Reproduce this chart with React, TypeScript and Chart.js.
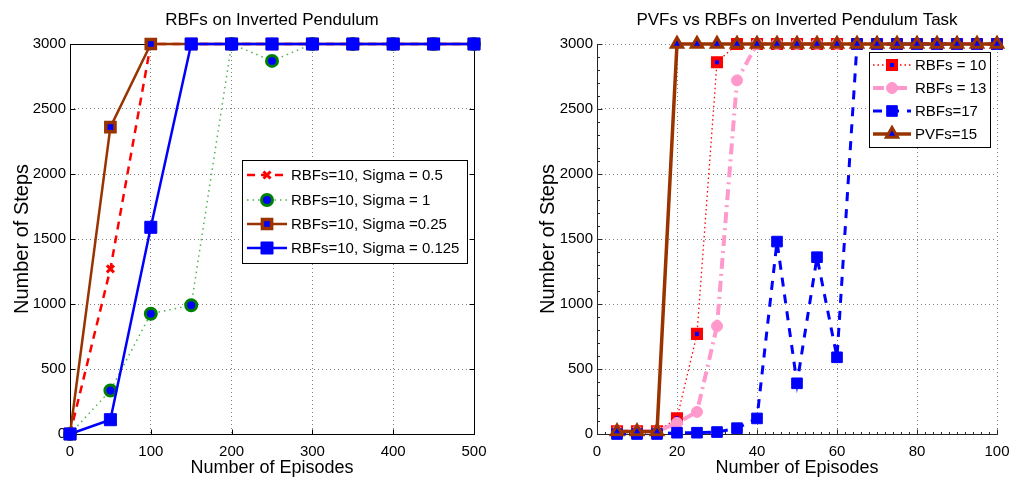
import React, { useEffect, useRef } from 'react';
import { Chart, registerables } from 'chart.js';

Chart.register(...registerables);

// ---------- Data: left panel ----------
const leftTitle = 'RBFs on Inverted Pendulum';
const leftEpisodes = [0, 50, 100, 150, 200, 250, 300, 350, 400, 450, 500];
const leftSigma05 = [0, 1270, 3000, 3000, 3000, 3000, 3000, 3000, 3000, 3000, 3000];
const leftSigma1 = [0, 335, 925, 990, 3000, 2870, 3000, 3000, 3000, 3000, 3000];
const leftSigma025 = [0, 2360, 3000, 3000, 3000, 3000, 3000, 3000, 3000, 3000, 3000];
const leftSigma0125 = [0, 110, 1590, 3000, 3000, 3000, 3000, 3000, 3000, 3000, 3000];
const leftLabels = [
  'RBFs=10, Sigma = 0.5',
  'RBFs=10, Sigma = 1',
  'RBFs=10, Sigma =0.25',
  'RBFs=10, Sigma = 0.125',
];
const leftXTicks = [0, 100, 200, 300, 400, 500];

// ---------- Data: right panel ----------
const rightTitle = 'PVFs vs RBFs on Inverted Pendulum Task';
const rightEpisodes = [5, 10, 15, 20, 25, 30, 35, 40, 45, 50, 55, 60, 65, 70, 75, 80, 85, 90, 95, 100];
const rightRbf10 = [20, 20, 20, 120, 770, 2860, 3000, 3000, 3000, 3000, 3000, 3000, 3000, 3000, 3000, 3000, 3000, 3000, 3000, 3000];
const rightRbf13 = [20, 20, 20, 85, 170, 830, 2720, 3000, 3000, 3000, 3000, 3000, 3000, 3000, 3000, 3000, 3000, 3000, 3000, 3000];
const rightRbf17 = [0, 0, 0, 10, 10, 15, 45, 120, 1480, 390, 1360, 590, 3000, 3000, 3000, 3000, 3000, 3000, 3000, 3000];
const rightPvf15 = [20, 20, 20, 3000, 3000, 3000, 3000, 3000, 3000, 3000, 3000, 3000, 3000, 3000, 3000, 3000, 3000, 3000, 3000, 3000];
const rightLabels = ['RBFs = 10', 'RBFs = 13', 'RBFs=17', 'PVFs=15'];
const rightXTicks = [0, 20, 40, 60, 80, 100];

const yTicks = [0, 500, 1000, 1500, 2000, 2500, 3000];
const xTitle = 'Number of Episodes';
const yTitle = 'Number of Steps';

const FONT = '"Liberation Sans", Arial, Helvetica, sans-serif';

const toPoints = (xs: number[], ys: number[]) => xs.map((x, i) => ({ x, y: ys[i] }));

function drawMarker(
  ctx: CanvasRenderingContext2D,
  style: string,
  r: number,
  bw: number,
  x: number,
  y: number,
  fill: string,
  stroke: string
) {
  ctx.save();
  ctx.setLineDash([]);
  ctx.lineWidth = bw;
  ctx.strokeStyle = stroke;
  ctx.fillStyle = fill;
  ctx.beginPath();
  if (style === 'circle') {
    ctx.arc(x, y, r, 0, Math.PI * 2);
  } else if (style === 'rect') {
    const s = Math.SQRT1_2 * r;
    ctx.rect(x - s, y - s, 2 * s, 2 * s);
  } else if (style === 'triangle') {
    let a = 0;
    ctx.moveTo(x + Math.sin(a) * r, y - Math.cos(a) * r);
    a += (2 * Math.PI) / 3;
    ctx.lineTo(x + Math.sin(a) * r, y - Math.cos(a) * r);
    a += (2 * Math.PI) / 3;
    ctx.lineTo(x + Math.sin(a) * r, y - Math.cos(a) * r);
    ctx.closePath();
  } else if (style === 'crossRot') {
    const s = Math.cos(Math.PI / 4) * r;
    ctx.moveTo(x - s, y - s);
    ctx.lineTo(x + s, y + s);
    ctx.moveTo(x + s, y - s);
    ctx.lineTo(x - s, y + s);
  }
  if (style !== 'crossRot') ctx.fill();
  if (bw > 0) ctx.stroke();
  ctx.restore();
}

type LegendCfg = {
  box: [number, number, number, number];
  rows: number[];
  line: [number, number];
  textX: number;
};

function makeLegendPlugin(cfg: LegendCfg) {
  return {
    id: 'customLegend',
    afterDraw(chart: any) {
      const ctx: CanvasRenderingContext2D = chart.ctx;
      const [x0, y0, x1, y1] = cfg.box;
      ctx.save();
      ctx.fillStyle = '#ffffff';
      ctx.fillRect(x0, y0, x1 - x0, y1 - y0);
      ctx.strokeStyle = '#000000';
      ctx.lineWidth = 1;
      ctx.strokeRect(x0 + 0.5, y0 + 0.5, x1 - x0, y1 - y0);
      const sorted = [...chart.data.datasets].sort((a: any, b: any) => a.legendIndex - b.legendIndex);
      sorted.forEach((ds: any, i: number) => {
        const y = cfg.rows[i];
        ctx.save();
        ctx.strokeStyle = ds.borderColor;
        ctx.lineWidth = ds.borderWidth;
        ctx.setLineDash(ds.borderDash || []);
        ctx.beginPath();
        ctx.moveTo(cfg.line[0], y);
        ctx.lineTo(cfg.line[1], y);
        ctx.stroke();
        ctx.restore();
        drawMarker(
          ctx,
          ds.pointStyle,
          ds.pointRadius,
          ds.pointBorderWidth,
          (cfg.line[0] + cfg.line[1]) / 2,
          y,
          ds.pointBackgroundColor,
          ds.pointBorderColor
        );
        ctx.fillStyle = '#000000';
        ctx.font = `15px ${FONT}`;
        ctx.textAlign = 'left';
        ctx.textBaseline = 'middle';
        ctx.fillText(ds.label, cfg.textX, y + 1);
      });
      ctx.restore();
    },
  };
}

function makeTitlePlugin(text: string) {
  return {
    id: 'customTitle',
    afterDraw(chart: any) {
      const ctx: CanvasRenderingContext2D = chart.ctx;
      const a = chart.chartArea;
      ctx.save();
      ctx.fillStyle = '#000000';
      ctx.font = `17px ${FONT}`;
      ctx.textAlign = 'center';
      ctx.textBaseline = 'middle';
      ctx.fillText(text, (a.left + a.right) / 2, 20);
      ctx.restore();
    },
  };
}

function makeFramePlugin(kind: 'box' | 'axes', xTicks: number[], minorX: number, minorY: number) {
  return {
    id: 'customFrame',
    beforeDatasetsDraw(chart: any) {
      const ctx: CanvasRenderingContext2D = chart.ctx;
      const a = chart.chartArea;
      const xs = chart.scales.x;
      const ys = chart.scales.y;
      const L = Math.round(a.left) + 0.5;
      const R = Math.round(a.right) + 0.5;
      const T = Math.round(a.top) + 0.5;
      const B = Math.round(a.bottom) + 0.5;
      ctx.save();
      ctx.setLineDash([]);
      ctx.lineWidth = 1;
      ctx.strokeStyle = kind === 'box' ? '#000000' : '#262626';
      ctx.beginPath();
      if (kind === 'box') {
        ctx.rect(L, T, R - L, B - T);
      } else {
        ctx.moveTo(L, T);
        ctx.lineTo(L, B);
        ctx.lineTo(R, B);
      }
      ctx.stroke();
      const tl = 5;
      ctx.beginPath();
      xTicks.forEach((v) => {
        const px = Math.round(xs.getPixelForValue(v)) + 0.5;
        ctx.moveTo(px, B);
        ctx.lineTo(px, B - tl);
        if (kind === 'box') {
          ctx.moveTo(px, T);
          ctx.lineTo(px, T + tl);
        }
      });
      yTicks.forEach((v) => {
        const py = Math.round(ys.getPixelForValue(v)) + 0.5;
        ctx.moveTo(L, py);
        ctx.lineTo(L + tl, py);
        if (kind === 'box') {
          ctx.moveTo(R, py);
          ctx.lineTo(R - tl, py);
        }
      });
      ctx.stroke();
      if (minorX > 0 || minorY > 0) {
        ctx.beginPath();
        if (minorX > 0) {
          for (let v = xs.min; v <= xs.max; v += minorX) {
            const px = Math.round(xs.getPixelForValue(v)) + 0.5;
            ctx.moveTo(px, B);
            ctx.lineTo(px, B - 2.5);
          }
        }
        if (minorY > 0) {
          for (let v = ys.min; v <= ys.max; v += minorY) {
            const py = Math.round(ys.getPixelForValue(v)) + 0.5;
            ctx.moveTo(L, py);
            ctx.lineTo(L + 2.5, py);
          }
        }
        ctx.stroke();
      }
      ctx.restore();
    },
  };
}

function scaleOptions(
  xMax: number,
  xTicks: number[],
  yWidth: number,
  yTitlePad: number
) {
  const gridCommon = { color: '#808080', lineWidth: 1, drawTicks: false };
  return {
    x: {
      type: 'linear',
      min: 0,
      max: xMax,
      afterBuildTicks: (s: any) => {
        s.ticks = xTicks.map((v) => ({ value: v }));
      },
      afterFit: (s: any) => {
        s.height = 49;
        s.paddingLeft = 0;
        s.paddingRight = 0;
      },
      grid: gridCommon,
      border: { display: false, dash: [1, 3] },
      ticks: {
        color: '#000000',
        font: { family: FONT, size: 15 },
        padding: 9,
        maxRotation: 0,
        autoSkip: false,
        callback: (v: any) => String(v),
      },
      title: {
        display: true,
        text: xTitle,
        color: '#000000',
        font: { family: FONT, size: 18 },
        padding: { top: 0, bottom: 4 },
      },
    },
    y: {
      type: 'linear',
      min: 0,
      max: 3000,
      afterBuildTicks: (s: any) => {
        s.ticks = yTicks.map((v) => ({ value: v }));
      },
      afterFit: (s: any) => {
        s.width = yWidth;
        s.paddingTop = 0;
        s.paddingBottom = 0;
      },
      grid: gridCommon,
      border: { display: false, dash: [1, 3] },
      ticks: {
        color: '#000000',
        font: { family: FONT, size: 15 },
        padding: 4,
        autoSkip: false,
        callback: (v: any) => String(v),
      },
      title: {
        display: true,
        text: yTitle,
        color: '#000000',
        font: { family: FONT, size: 20 },
        padding: { top: yTitlePad, bottom: 0 },
      },
    },
  };
}

function leftConfig(): any {
  const datasets = [
    {
      label: leftLabels[0],
      legendIndex: 0,
      order: 3,
      data: toPoints(leftEpisodes, leftSigma05),
      borderColor: '#ff0000',
      borderWidth: 2.5,
      borderDash: [8, 6],
      pointStyle: 'crossRot',
      pointRadius: 5,
      pointBorderWidth: 3,
      pointBorderColor: '#ff0000',
      pointBackgroundColor: '#ff0000',
    },
    {
      label: leftLabels[1],
      legendIndex: 1,
      order: 2,
      data: toPoints(leftEpisodes, leftSigma1),
      borderColor: '#4fb34f',
      borderWidth: 1.5,
      borderDash: [1.5, 4],
      pointStyle: 'circle',
      pointRadius: 5.5,
      pointBorderWidth: 3,
      pointBorderColor: '#008000',
      pointBackgroundColor: '#0000ff',
    },
    {
      label: leftLabels[2],
      legendIndex: 2,
      order: 1,
      data: toPoints(leftEpisodes, leftSigma025),
      borderColor: '#993300',
      borderWidth: 2.5,
      borderDash: [],
      pointStyle: 'rect',
      pointRadius: 6.5,
      pointBorderWidth: 3.5,
      pointBorderColor: '#993300',
      pointBackgroundColor: '#0000ff',
    },
    {
      label: leftLabels[3],
      legendIndex: 3,
      order: 0,
      data: toPoints(leftEpisodes, leftSigma0125),
      borderColor: '#0000ff',
      borderWidth: 2.5,
      borderDash: [],
      pointStyle: 'rect',
      pointRadius: 8.5,
      pointBorderWidth: 1,
      pointBorderColor: '#0000ff',
      pointBackgroundColor: '#0000ff',
    },
  ];
  return {
    type: 'line',
    data: { datasets: datasets.map((d) => ({ ...d, clip: false, tension: 0, fill: false })) },
    options: {
      responsive: false,
      animation: false,
      events: [],
      layout: { padding: { top: 44, right: 31, left: 0, bottom: 0 } },
      plugins: { legend: { display: false }, tooltip: { enabled: false }, title: { display: false } },
      scales: scaleOptions(500, leftXTicks, 70, 10),
    },
    plugins: [
      makeFramePlugin('box', leftXTicks, 0, 0),
      makeLegendPlugin({ box: [242, 160, 467, 263], rows: [175, 200, 224, 248], line: [247, 287], textX: 291 }),
      makeTitlePlugin(leftTitle),
    ],
  };
}

function rightConfig(): any {
  const datasets = [
    {
      label: rightLabels[0],
      legendIndex: 0,
      order: 3,
      data: toPoints(rightEpisodes, rightRbf10),
      borderColor: '#ff0000',
      borderWidth: 1.3,
      borderDash: [1.5, 3],
      pointStyle: 'rect',
      pointRadius: 5.7,
      pointBorderWidth: 4,
      pointBorderColor: '#ff0000',
      pointBackgroundColor: '#0000ff',
    },
    {
      label: rightLabels[1],
      legendIndex: 1,
      order: 2,
      data: toPoints(rightEpisodes, rightRbf13),
      borderColor: '#ff99cc',
      borderWidth: 4,
      borderDash: [11, 5, 2, 5],
      pointStyle: 'circle',
      pointRadius: 5.5,
      pointBorderWidth: 1,
      pointBorderColor: '#ff99cc',
      pointBackgroundColor: '#ff99cc',
    },
    {
      label: rightLabels[2],
      legendIndex: 2,
      order: 1,
      data: toPoints(rightEpisodes, rightRbf17),
      borderColor: '#0000ff',
      borderWidth: 3,
      borderDash: [9, 8],
      pointStyle: 'rect',
      pointRadius: 7.5,
      pointBorderWidth: 1,
      pointBorderColor: '#0000ff',
      pointBackgroundColor: '#0000ff',
    },
    {
      label: rightLabels[3],
      legendIndex: 3,
      order: 0,
      data: toPoints(rightEpisodes, rightPvf15),
      borderColor: '#993300',
      borderWidth: 3.5,
      borderDash: [],
      pointStyle: 'triangle',
      pointRadius: 6.5,
      pointBorderWidth: 3,
      pointBorderColor: '#993300',
      pointBackgroundColor: '#0000ff',
    },
  ];
  return {
    type: 'line',
    data: { datasets: datasets.map((d) => ({ ...d, clip: false, tension: 0, fill: false })) },
    options: {
      responsive: false,
      animation: false,
      events: [],
      layout: { padding: { top: 44, right: 13, left: 0, bottom: 0 } },
      plugins: { legend: { display: false }, tooltip: { enabled: false }, title: { display: false } },
      scales: scaleOptions(100, rightXTicks, 92, 31),
    },
    plugins: [
      makeFramePlugin('axes', rightXTicks, 2, 100),
      makeLegendPlugin({ box: [364, 52, 485, 147], rows: [65, 88, 111, 134], line: [368, 406], textX: 410 }),
      makeTitlePlugin(rightTitle),
    ],
  };
}

export default function App() {
  const leftRef = useRef<HTMLCanvasElement | null>(null);
  const rightRef = useRef<HTMLCanvasElement | null>(null);

  useEffect(() => {
    const charts: Chart[] = [];
    if (leftRef.current) charts.push(new Chart(leftRef.current, leftConfig()));
    if (rightRef.current) charts.push(new Chart(rightRef.current, rightConfig()));
    return () => charts.forEach((c) => c.destroy());
  }, []);

  return (
    <div style={{ position: 'absolute', left: 0, top: 0, width: 1010, height: 483, background: '#ffffff' }}>
      <canvas
        ref={leftRef}
        width={505}
        height={483}
        style={{ position: 'absolute', left: 0, top: 0, width: 505, height: 483 }}
      />
      <canvas
        ref={rightRef}
        width={505}
        height={483}
        style={{ position: 'absolute', left: 505, top: 0, width: 505, height: 483 }}
      />
    </div>
  );
}
